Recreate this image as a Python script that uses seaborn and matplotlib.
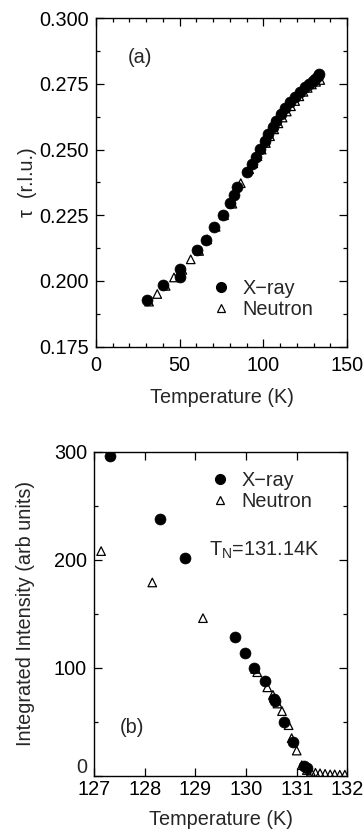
import matplotlib
matplotlib.use("Agg")
import matplotlib.pyplot as plt
from matplotlib.lines import Line2D
from matplotlib.ticker import MultipleLocator, FormatStrFormatter, FuncFormatter
import seaborn as sns

sns.set_theme(style="white")
plt.rcParams["font.family"] = ["Liberation Sans", "DejaVu Sans"]
plt.rcParams["mathtext.fontset"] = "custom"
plt.rcParams["mathtext.rm"] = "Liberation Sans"

# (a) incommensurability vs temperature
xray_a_T = [30.3, 40.2, 50.2, 50.4, 60.2, 65.6, 70.6, 75.6, 80.2, 82.2, 84.5,
            90.2, 93.2, 95.5, 98.0, 100.8, 103.0, 105.5, 107.7, 110.8, 113.0,
            116.0, 119.0, 122.0, 125.0, 127.5, 129.5, 131.0, 132.5, 133.5]
xray_a_tau = [0.1928, 0.1985, 0.2047, 0.2015, 0.2119, 0.2157, 0.2204, 0.2250,
              0.2298, 0.2328, 0.2356, 0.2416, 0.2446, 0.2471, 0.2502, 0.2533,
              0.2560, 0.2585, 0.2610, 0.2636, 0.2660, 0.2680, 0.2700, 0.2719,
              0.2737, 0.2750, 0.2760, 0.2770, 0.2780, 0.2789]
neut_a_T = [31.7, 36.6, 41.6, 46.6, 51.6, 56.6, 61.6, 66.5, 71.5, 76.5, 81.5,
            86.5, 91.5, 94.0, 96.5, 99.0, 101.5, 104.0, 106.5, 109.0, 111.5,
            114.0, 116.5, 119.0, 121.5, 124.0, 126.5, 129.0, 131.5, 134.0]
neut_a_tau = [0.1921, 0.1950, 0.1981, 0.2013, 0.2042, 0.2082, 0.2114, 0.2158,
              0.2206, 0.2250, 0.2294, 0.2372, 0.2425, 0.2448, 0.2475, 0.2500,
              0.2525, 0.2551, 0.2577, 0.2600, 0.2622, 0.2645, 0.2665, 0.2685,
              0.2703, 0.2720, 0.2735, 0.2748, 0.2758, 0.2765]

# (b) integrated intensity near T_N
xray_b_T = [127.32, 128.31, 128.80, 129.78, 129.97, 130.16, 130.37, 130.55,
            130.58, 130.74, 130.92, 131.14, 131.20]
xray_b_I = [296, 238, 202, 129, 114, 100, 88, 71, 69, 50, 31, 9.5, 7]
neut_b_T = [127.14, 128.15, 129.15, 130.18, 130.22, 130.42, 130.53, 130.62,
            130.71, 130.84, 130.90, 131.00, 131.10, 131.20, 131.28, 131.37,
            131.46, 131.56, 131.66, 131.75, 131.85, 131.95]
neut_b_I = [208, 179, 146, 99, 96, 82, 75, 67, 60, 47, 35, 23.5, 10, 5.5, 4,
            3, 2.5, 2, 1.5, 1.5, 1.2, 1.2]

fig = plt.figure(figsize=(3.63, 8.31), dpi=100)
ax_a = fig.add_axes([0.2645, 0.583, 0.6915, 0.395])
ax_b = fig.add_axes([0.259, 0.0662, 0.698, 0.3903])

FS = 14.3


def draw(ax, xT, xv, nT, nv):
    sns.scatterplot(x=nT, y=nv, ax=ax, marker="^", s=38,
                    facecolor="none", edgecolor="black", linewidth=0.9,
                    zorder=3)
    sns.scatterplot(x=xT, y=xv, ax=ax, marker="o", s=62,
                    color="black", edgecolor="black", linewidth=0.5,
                    zorder=2)


def style(ax, xpad):
    for s in ax.spines.values():
        s.set_color("black")
        s.set_linewidth(1.0)
    ax.tick_params(which="both", direction="in", top=True, right=True,
                   bottom=True, left=True, colors="black", labelsize=FS,
                   width=0.9)
    ax.tick_params(which="major", length=6, pad=5)
    ax.tick_params(axis="x", which="major", pad=xpad)
    ax.tick_params(which="minor", length=3)


def legend(ax, loc):
    handles = [
        Line2D([], [], marker="o", ls="none", color="black", markersize=7),
        Line2D([], [], marker="^", ls="none", markerfacecolor="none",
               markeredgecolor="black", markersize=6, markeredgewidth=0.9),
    ]
    ax.legend(handles, ["X\u2212ray", "Neutron"], loc="upper left",
              bbox_to_anchor=loc, frameon=False, fontsize=FS,
              handletextpad=0.5, labelspacing=0.1, handlelength=1.2,
              borderpad=0, borderaxespad=0)


# panel (a)
draw(ax_a, xray_a_T, xray_a_tau, neut_a_T, neut_a_tau)
ax_a.set_xlim(0, 150)
ax_a.set_ylim(0.175, 0.300)
ax_a.xaxis.set_major_locator(MultipleLocator(50))
ax_a.xaxis.set_minor_locator(MultipleLocator(10))
ax_a.yaxis.set_major_locator(MultipleLocator(0.025))
ax_a.yaxis.set_minor_locator(MultipleLocator(0.0125))
ax_a.yaxis.set_major_formatter(FormatStrFormatter("%.3f"))
ax_a.set_xlabel("Temperature (K)", fontsize=FS, labelpad=9)
ax_a.set_ylabel("\u03c4  (r.l.u.)", fontsize=FS, labelpad=2)
ax_a.text(0.125, 0.882, "(a)", transform=ax_a.transAxes, fontsize=FS,
          va="center", ha="left")
legend(ax_a, (0.45, 0.205))
style(ax_a, xpad=7)

# panel (b)
draw(ax_b, xray_b_T, xray_b_I, neut_b_T, neut_b_I)
ax_b.set_xlim(127, 132)
ax_b.set_ylim(0, 300)
ax_b.xaxis.set_major_locator(MultipleLocator(1))
ax_b.yaxis.set_major_locator(MultipleLocator(100))
ax_b.yaxis.set_minor_locator(MultipleLocator(50))
# the zero label sits a little above its tick, clear of the 127 label
ax_b.yaxis.set_major_formatter(FuncFormatter(lambda v, p: "" if v == 0 else f"{v:.0f}"))
ax_b.annotate("0", xy=(0, 0), xycoords=("axes fraction", "data"),
              xytext=(-5, 6), textcoords="offset points",
              ha="right", va="center", fontsize=FS)
ax_b.set_xlabel("Temperature (K)", fontsize=FS, labelpad=8)
ax_b.set_ylabel("Integrated Intensity (arb units)", fontsize=FS, labelpad=14)
ax_b.text(0.10, 0.15, "(b)", transform=ax_b.transAxes, fontsize=FS,
          va="center", ha="left")
ax_b.text(0.455, 0.695, r"T$_{\mathregular{N}}$=131.14K",
          transform=ax_b.transAxes, fontsize=FS, va="center", ha="left")
legend(ax_b, (0.45, 0.94))
style(ax_b, xpad=3)

fig.savefig("out.png", dpi=100)
